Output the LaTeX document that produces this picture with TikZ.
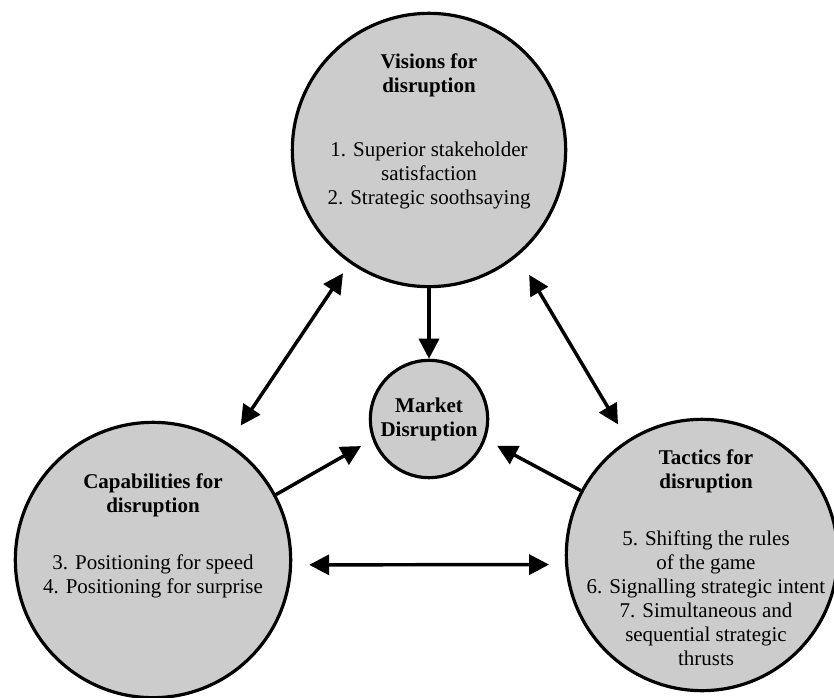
\documentclass[tikz,border=0pt]{standalone}
\usepackage{fontspec}
\setmainfont{Liberation Serif}
\usepackage{xcolor}
\usetikzlibrary{arrows.meta}
\definecolor{discgray}{RGB}{204,204,204}

\begin{document}
\begin{tikzpicture}[x=0.75pt,y=0.75pt,yscale=-1,xscale=1,
  disc/.style={circle,draw,fill=discgray,line width=2.4pt,inner sep=0pt},
  link/.style={line width=2.6pt,-{Triangle[length=15pt,width=15pt]}},
  twoway/.style={line width=2.6pt,{Triangle[length=15pt,width=15pt]}-{Triangle[length=15pt,width=15pt]}},
  txt/.style={align=center,inner sep=0.75pt,font=\fontsize{15.75}{18}\selectfont}]
\useasboundingbox (0,0) rectangle (834,698);

%Shape: Circle [visions]
\draw (429,150) node [disc,minimum size=205pt] (vis) {};
%Shape: Circle [capabilities]
\draw (153,560) node [disc,minimum size=206.5pt] (cap) {};
%Shape: Circle [tactics]
\draw (702,555) node [disc,minimum size=203.5pt] (tac) {};
%Shape: Circle [market]
\draw (429,419) node [disc,txt,minimum size=88pt] (mkt) {\textbf{Market}\\\textbf{Disruption}};

% Text Node
\draw (429,131) node [txt] (vistext) {\textbf{Visions for}\\\textbf{disruption}\\[30pt]1. Superior stakeholder\\satisfaction\\2. Strategic soothsaying};
% Text Node
\draw (153,536) node [txt] (captext) {\textbf{Capabilities for}\\\textbf{disruption}\\[25pt]3. Positioning for speed\\4. Positioning for surprise};
% Text Node
\draw (706,558) node [txt] (tactext) {\textbf{Tactics for}\\\textbf{disruption}\\[25pt]5. Shifting the rules\\of the game\\6. Signalling strategic intent\\7. Simultaneous and\\sequential strategic\\thrusts};

%Straight Lines [arrows]
\draw [link] (vis.south) -- (mkt.north) ;
\draw [link,shorten >=9.75pt] (cap.28) -- (mkt.200) ;
\draw [link,shorten >=9.75pt] (tac.152) -- (mkt.-20) ;
\draw [twoway,shorten <=9pt,shorten >=16pt] (vis.235) -- (cap.57) ;
\draw [twoway,shorten <=16.5pt,shorten >=13.5pt] (vis.-50) -- (tac.123) ;
\draw [twoway,shorten <=12.75pt,shorten >=12pt] (cap.-2) -- (tac.184) ;

\end{tikzpicture}
\end{document}
